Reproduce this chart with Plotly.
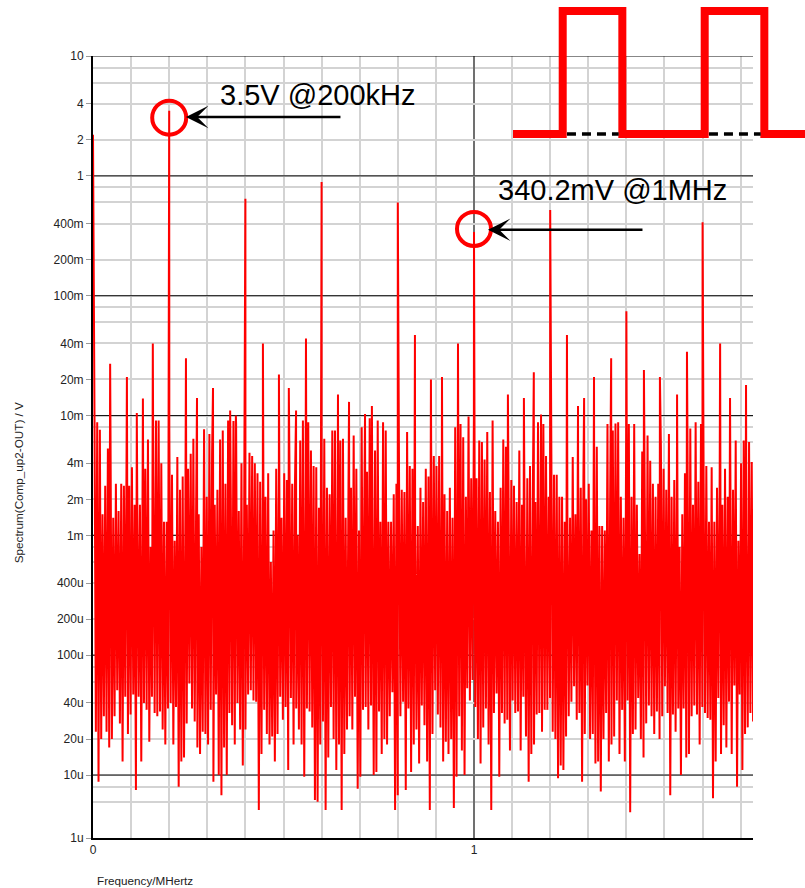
import math
import numpy as np
import plotly.graph_objects as go

# ---------------------------------------------------------------- data
# Harmonics of the 200 kHz switching waveform (DC first), MHz / V
harm_freq = [0.0, 0.2, 0.4, 0.6, 0.8, 1.0, 1.2, 1.4, 1.6]
harm_amp = [2.2, 3.5, 0.645, 0.89, 0.60, 0.3402, 0.52, 0.074, 0.41]

# Isolated spurs that rise clearly above the noise floor, MHz / mV
spur_freq = [0.045, 0.089, 0.115, 0.131, 0.157, 0.244, 0.273, 0.315, 0.360, 0.375,
             0.446, 0.488, 0.514, 0.533, 0.559, 0.643, 0.672, 0.714, 0.732, 0.845,
             0.887, 0.916, 0.958, 1.089, 1.131, 1.157, 1.176, 1.244, 1.273, 1.289,
             1.315, 1.360, 1.446, 1.488, 1.533, 1.559, 1.646, 1.672, 1.714]
spur_mV = [27, 21, 10.5, 13.9, 40, 30, 14, 17, 11, 10,
           40, 22, 17, 11, 44, 15, 13, 10.3, 12, 47,
           20, 21, 40, 15, 14, 23, 10.2, 47, 12, 14,
           21, 30, 24, 21, 15, 34, 40, 14, 18]

# Noise floor: local maxima (mV) and local minima (uV), left to right
noise_peak_mV = [
    9.1, 8.8, 7.6, 1.5, 2.6, 5.3, 6.2, 1.4, 2.7, 1.6, 2.7, 2.6, 5.3, 2.6, 3.7, 1.8, 2.0, 1.8,
    3.3, 3.6, 6.3, 0.8, 3.1, 9.1, 9.1, 4.0, 1.3, 1.3, 7.7, 3.2, 0.9, 4.5, 2.4, 3.1, 1.5, 3.6,
    4.8, 6.4, 1.4, 1.5, 0.8, 7.7, 2.1,
    7.0, 4.8, 1.8, 2.4, 6.3, 7.5, 2.7, 9.1, 2.2, 9.0, 8.5, 1.6, 4.0, 1.3, 1.8, 4.9, 4.6, 4.0,
    3.3, 2.8, 3.4, 2.1, 3.3, 0.6, 1.1, 3.6, 3.7, 1.4, 3.3, 2.9, 3.0, 2.7, 2.5, 1.0, 6.2, 9.1,
    2.9, 8.8, 5.1, 3.8, 3.7, 1.7, 2.9, 6.4, 2.5, 2.2, 7.5,
    7.5, 2.0, 6.2, 6.4, 1.4, 1.6, 2.5, 6.8, 3.6, 1.1, 8.0, 2.1, 3.4, 9.5, 2.1, 5.1, 9.1, 1.3,
    8.8, 7.5, 1.3, 1.3, 2.2, 2.7, 2.7, 2.4, 2.3, 7.3, 3.8, 3.6, 1.4, 1.2, 2.5, 1.9, 3.6, 3.1,
    6.2, 4.6, 3.8, 4.6, 3.1, 2.2, 1.6, 2.5, 1.4, 8.0, 9.1, 8.5, 6.6, 2.1, 9.8, 3.0,
    9.8, 3.0, 6.2, 6.0, 4.3, 7.3, 2.3, 9.1, 1.6, 1.3, 2.5, 6.3, 5.5, 1.8, 2.9, 2.6, 1.9, 5.1,
    1.8, 1.0, 3.0, 3.8, 1.5, 1.9, 8.8, 2.1, 8.5, 4.6, 2.1, 4.8, 3.2, 3.2, 2.1, 2.1, 1.3, 1.5,
    1.4, 4.5, 1.5, 4.6, 2.5, 3.1, 2.0, 2.7, 1.1, 5.6, 5.5, 1.2, 1.2, 1.1, 8.5, 2.1,
    7.5, 8.6, 8.8, 2.1, 1.4, 8.5, 8.5, 2.1, 8.5, 1.8, 0.7, 5.0, 1.4, 6.8, 4.2, 2.7, 2.1, 2.7,
    5.5, 3.6, 2.4, 7.0, 2.1, 2.9, 3.4, 0.8, 1.5, 3.3, 4.0, 7.8, 1.8, 8.8, 2.8, 8.5, 2.7, 3.8,
    1.3, 3.7, 1.3, 2.5, 3.2, 1.8, 3.6, 2.1, 3.5, 2.4, 6.2, 0.9, 4.0, 6.2, 1.0, 6.0, 4.1,
]
noise_dip_uV = [
    23, 8.8, 20, 31, 23, 17, 20, 31, 51, 27, 13, 45, 22, 32, 47, 7.5, 45, 13, 40, 35,
    19, 45, 33, 31, 34, 24, 18, 36, 40, 18, 37, 8, 13, 14, 27, 58, 36, 28, 17, 15,
    23, 22, 18, 35, 8.8, 47, 10, 6.8, 17, 10, 33, 26, 18, 40, 24, 12, 24, 47, 51, 42,
    41, 5.1, 15, 35, 22, 18, 21, 13,
    22, 45, 29, 37, 11, 44, 18, 36, 24, 18, 9.7, 36, 34, 25, 6.2, 6.0, 18, 28, 5.1, 14,
    37, 20, 11, 18, 5.1, 15, 24, 31, 24, 45, 7.7, 9.7, 35, 37, 24, 38, 10, 10.6, 34,
    15, 20, 18, 31, 49, 5.1, 6.8, 31, 41, 7.5, 36, 10.6, 18, 24, 12.5, 38, 26, 13, 5.1,
    22, 51, 32, 25, 13, 19, 15, 20, 5.3, 9.7, 31, 16, 10, 53, 42, 62, 37, 20, 12.5,
    25, 36, 18, 5.1, 33, 48, 9.7, 33, 27, 29, 16, 42, 33, 34, 16, 45, 21, 8.8, 15,
    18, 32, 33, 23, 35, 35, 44, 23, 20, 9.4, 12, 11, 21, 31, 41, 55, 29, 33,
    8.8, 22, 56, 20, 22, 12.5, 13, 7.3, 20, 33, 13, 18, 21, 42, 15, 35, 13, 42, 4.9,
    22, 24, 44, 20, 14, 27, 38, 31, 22, 34, 20, 31, 55, 33, 6.8, 32, 23, 36, 10,
    36, 14, 15, 31, 38, 32, 18, 37, 33, 30, 29, 6.4, 13, 44, 15, 26, 17, 41,
    15, 56, 8, 47, 11, 22, 25, 33, 28,
]

# Inset sketch of the switching waveform (time in us, normalised level)
wave_t = [0.0, 1.75, 1.75, 3.85, 3.85, 6.75, 6.75, 8.85, 8.85, 10.6]
wave_level = [0, 0, 1, 1, 0, 0, 1, 1, 0, 0]
ref_t = [1.9, 3.72, None, 6.9, 8.72]
ref_level = [0, 0, None, 0, 0]

# Axis tick labels
y_tick_vals = [10, 4, 2, 1, 0.4, 0.2, 0.1, 0.04, 0.02, 0.01, 4e-3, 2e-3, 1e-3,
               4e-4, 2e-4, 1e-4, 4e-5, 2e-5, 1e-5]
y_tick_text = ["10", "4", "2", "1", "400m", "200m", "100m", "40m", "20m", "10m",
               "4m", "2m", "1m", "400u", "200u", "100u", "40u", "20u", "10u"]
decades = [10, 1, 0.1, 0.01, 1e-3, 1e-4, 1e-5]

# ---------------------------------------------------------------- geometry
F_MAX = 1.7323
Y_BOT = 2.985e-6
PX_PER_DECADE = 120.0

n = len(noise_peak_mV)
peak_f = np.linspace(0.004, 1.729, n)
step = peak_f[1] - peak_f[0]
dip_f = peak_f + step / 2

points = [(f, v * 1e-3) for f, v in zip(peak_f, noise_peak_mV)]
points += [(f, v * 1e-6) for f, v in zip(dip_f, noise_dip_uV)]
points += [(f, v * 1e-3) for f, v in zip(spur_freq, spur_mV)]
points += list(zip(harm_freq, harm_amp))
points.sort(key=lambda p: p[0])
spec_f = [p[0] for p in points]
spec_v = [p[1] for p in points]

fig = go.Figure()

# decade grid lines (black), beneath the spectrum
dec_x, dec_y = [], []
for d in decades:
    dec_x += [0, F_MAX, None]
    dec_y += [d, d, None]
fig.add_trace(go.Scatter(x=dec_x, y=dec_y, mode="lines",
                         line=dict(color="#111111", width=1),
                         hoverinfo="skip", showlegend=False))

fig.add_trace(go.Scatter(x=spec_f, y=spec_v, mode="lines",
                         line=dict(color="#ff0000", width=2, simplify=False),
                         hoverinfo="skip", showlegend=False))

# rings around the two labelled harmonics (centres offset a few pixels from the tips)
ring_f = [0.2, 1.0]
ring_v = [harm_amp[1] * 10 ** (-7 / PX_PER_DECADE),
          harm_amp[5] * 10 ** (3 / PX_PER_DECADE)]
fig.add_trace(go.Scatter(x=ring_f, y=ring_v, mode="markers",
                         marker=dict(symbol="circle-open", size=34, color="#ff0000",
                                     line=dict(color="#ff0000", width=4)),
                         cliponaxis=False, hoverinfo="skip", showlegend=False))

# inset waveform
fig.add_trace(go.Scatter(x=wave_t, y=wave_level, mode="lines", xaxis="x2", yaxis="y2",
                         line=dict(color="#ff0000", width=8),
                         hoverinfo="skip", showlegend=False))
fig.add_trace(go.Scatter(x=ref_t, y=ref_level, mode="lines", xaxis="x2", yaxis="y2",
                         line=dict(color="black", width=3.5, dash="9px,6px"),
                         hoverinfo="skip", showlegend=False))

# ---------------------------------------------------------------- layout
x_minor = [round(0.1 * k, 1) for k in range(1, 18) if k != 10]
y_minor = []
for e in range(-6, 1):
    for m in (8, 6):
        y_minor.append(m * 10.0 ** e)
y_minor = [v for v in y_minor if v > Y_BOT]

tick_font = dict(family="Liberation Sans, Arial, sans-serif", size=12, color="#222222")

fig.update_layout(
    width=805, height=888,
    margin=dict(l=93, r=0, t=0, b=50, autoexpand=False),
    paper_bgcolor="white",
    plot_bgcolor="rgba(0,0,0,0)",
    showlegend=False,
    xaxis=dict(
        domain=[0, 660 / 712], range=[0, F_MAX],
        tickvals=[0, 1], ticktext=["0", "1"], ticks="",
        showgrid=True, gridcolor="#707070", gridwidth=1.5,
        minor=dict(tickvals=x_minor, showgrid=True, gridcolor="#d3d3d3", gridwidth=1.5),
        showline=True, linecolor="black", linewidth=2,
        zeroline=False, tickfont=tick_font,
    ),
    yaxis=dict(
        domain=[0, 782 / 838], type="log",
        range=[math.log10(Y_BOT), 1],
        tickvals=y_tick_vals + [Y_BOT], ticktext=y_tick_text + ["1u"],
        ticks="outside", ticklen=5, tickcolor="#999999", tickwidth=1,
        showgrid=True, gridcolor="#d3d3d3", gridwidth=1.5,
        minor=dict(tickvals=y_minor, showgrid=True, gridcolor="#d3d3d3", gridwidth=1.5),
        showline=True, linecolor="black", linewidth=2,
        zeroline=False, tickfont=tick_font,
    ),
    xaxis2=dict(domain=[412 / 712, 1], range=[-0.282, 10.282], visible=False,
                anchor="y2", fixedrange=True),
    yaxis2=dict(domain=[693 / 838, 1], range=[-0.0894, 1.0894], visible=False,
                anchor="x2", fixedrange=True),
)

label_font = dict(family="Liberation Sans, Arial, sans-serif", size=29, color="black")
small_font = dict(family="Liberation Sans, Arial, sans-serif", size=11.7, color="#222222")

fig.add_annotation(x=0.328, y=0.673, xref="x", yref="y", text="3.5V @200kHz",
                   showarrow=False, xanchor="left", yanchor="middle", font=label_font)
fig.add_annotation(x=1.058, y=-0.1175, xref="x", yref="y", text="340.2mV @1MHz",
                   showarrow=False, xanchor="left", yanchor="middle", font=label_font)

# arrows pointing at the two marked harmonics
for tip_x, tip_y in [(0.244, 0.4917), (1.0367, -0.45)]:
    fig.add_annotation(x=tip_x, y=tip_y, xref="x", yref="y", text="",
                       showarrow=True, ax=156, ay=0, axref="pixel", ayref="pixel",
                       arrowhead=3, arrowsize=1.5, arrowwidth=2.5, arrowcolor="black",
                       standoff=0)

fig.add_annotation(x=-0.105, y=0.4236, xref="paper", yref="paper",
                   text="Spectrum(Comp_up2-OUT) / V", textangle=-90,
                   showarrow=False, xanchor="center", yanchor="middle", font=small_font)
fig.add_annotation(x=0.003, y=-0.0513, xref="paper", yref="paper",
                   text="Frequency/MHertz",
                   showarrow=False, xanchor="left", yanchor="middle", font=small_font)

fig.write_html("out.html")
